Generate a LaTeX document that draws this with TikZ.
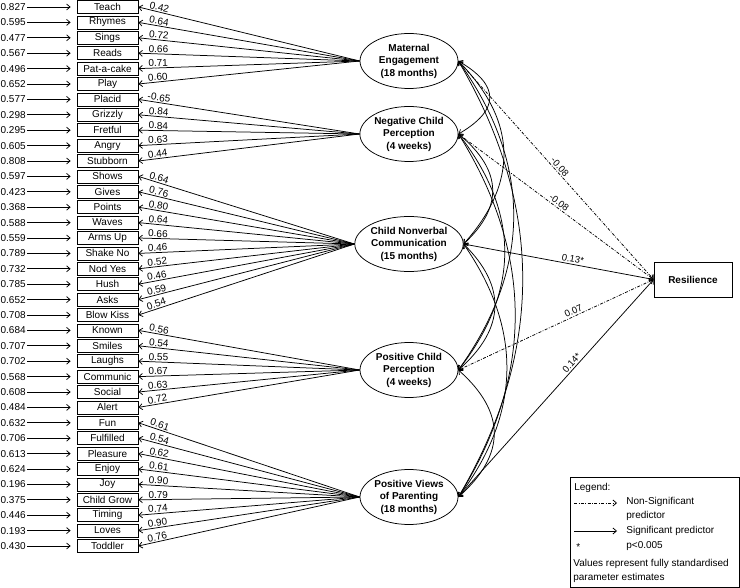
\documentclass[tikz,border=0pt]{standalone}
\usepackage{fontspec}
\setmainfont{Liberation Sans}
\usetikzlibrary{shapes.geometric,arrows.meta}
\begin{document}
\begin{tikzpicture}[x=1pt,y=-1pt,line width=0.75pt,
  >={Straight Barb[length=3.5pt,width=6pt]},
  item/.style={draw,rectangle,minimum width=61pt,minimum height=13pt,inner sep=0pt,font=\fontsize{10}{12}\selectfont},
  err/.style={anchor=east,inner sep=0pt,font=\fontsize{10}{12}\selectfont},
  lab/.style={font=\fontsize{10}{12}\selectfont,inner sep=1pt,sloped,above},
  rlab/.style={font=\fontsize{9.5}{12}\selectfont,inner sep=1.5pt,sloped,above},
  fac/.style={draw,ellipse,minimum width=98pt,minimum height=55pt,inner sep=0pt,align=center,font=\bfseries\fontsize{10}{12.5}\selectfont},
  outc/.style={draw,rectangle,minimum width=78pt,minimum height=35pt,inner sep=0pt,font=\bfseries\fontsize{10}{12}\selectfont},
  ns/.style={dash pattern=on 3pt off 1.5pt on 0.8pt off 1.5pt},
  lgt/.style={anchor=west,inner sep=0pt,align=left,font=\fontsize{10}{13.5}\selectfont},
]
\useasboundingbox (0,0) rectangle (740,588);

% latent factors
\node[fac] (ME)  at (409,61)  {Maternal\\Engagement\\(18 months)};
\node[fac] (NCP) at (409,134) {Negative Child\\Perception\\(4 weeks)};
\node[fac] (CNC) at (409,244) {Child Nonverbal\\Communication\\(15 months)};
\node[fac] (PCP) at (409,370) {Positive Child\\Perception\\(4 weeks)};
\node[fac] (PVP) at (409,497) {Positive Views\\of Parenting\\(18 months)};

\node[outc] (res) at (693,279.5) {Resilience};

% indicators
\foreach \i/\name/\e/\f/\l in {
  1/Teach/0.827/ME/0.42, 2/Rhymes/0.595/ME/0.64, 3/Sings/0.477/ME/0.72,
  4/Reads/0.567/ME/0.66, 5/Pat-a-cake/0.496/ME/0.71, 6/Play/0.652/ME/0.60,
  7/Placid/0.577/NCP/-0.65, 8/Grizzly/0.298/NCP/0.84, 9/Fretful/0.295/NCP/0.84,
  10/Angry/0.605/NCP/0.63, 11/Stubborn/0.808/NCP/0.44,
  12/Shows/0.597/CNC/0.64, 13/Gives/0.423/CNC/0.76, 14/Points/0.368/CNC/0.80,
  15/Waves/0.588/CNC/0.64, 16/Arms Up/0.559/CNC/0.66, 17/Shake No/0.789/CNC/0.46,
  18/Nod Yes/0.732/CNC/0.52, 19/Hush/0.785/CNC/0.46, 20/Asks/0.652/CNC/0.59,
  21/Blow Kiss/0.708/CNC/0.54,
  22/Known/0.684/PCP/0.56, 23/Smiles/0.707/PCP/0.54, 24/Laughs/0.702/PCP/0.55,
  25/Communic/0.568/PCP/0.67, 26/Social/0.608/PCP/0.63, 27/Alert/0.484/PCP/0.72,
  28/Fun/0.632/PVP/0.61, 29/Fulfilled/0.706/PVP/0.54, 30/Pleasure/0.613/PVP/0.62,
  31/Enjoy/0.624/PVP/0.61, 32/Joy/0.196/PVP/0.90, 33/Child Grow/0.375/PVP/0.79,
  34/Timing/0.446/PVP/0.74, 35/Loves/0.193/PVP/0.90, 36/Toddler/0.430/PVP/0.76}
{
  \node[item] (b\i) at (107.5,{7+(\i-1)*15.4}) {\name};
  \node[err] (e\i) at (26,{7+(\i-1)*15.4}) {\e};
  \draw[->,shorten <=1pt,shorten >=6pt] (e\i.east) -- (b\i.west);
  \draw[<-] (b\i.east) -- node[lab,pos=0.09] {\l} (\f.west);
}

% correlations
\foreach \a/\b/\ya/\yb/\c in {
  ME/NCP/61/134/42, NCP/CNC/134/244/45, CNC/PCP/244/370/48, PCP/PVP/370/497/48,
  ME/CNC/61/244/60, NCP/PCP/134/370/62, CNC/PVP/244/497/64,
  ME/PCP/61/370/74, NCP/PVP/134/497/76, ME/PVP/61/497/86}
{
  \draw[<->] (\a.east) .. controls ({458+\c},{\ya+(\yb-\ya)/3}) and ({458+\c},{\yb-(\yb-\ya)/3}) .. (\b.east);
}

% regressions
\draw[->,ns] (ME.east)  -- node[rlab,pos=0.5]  {-0.08} (res.west);
\draw[->,ns] (NCP.east) -- node[rlab,pos=0.5]  {-0.08} (res.west);
\draw[->]    (CNC.east) -- node[rlab,pos=0.57] {0.13*} (res.west);
\draw[->,ns] (PCP.east) -- node[rlab,pos=0.6]  {0.07}  (res.west);
\draw[->]    (PVP.east) -- node[rlab,pos=0.6]  {0.14*} (res.west);

% legend
\node[draw,line width=0.6pt,minimum width=169pt,minimum height=110pt,anchor=north west,inner sep=0pt] (leg) at (570,477) {};
\node[lgt] (l0) at (574,488) {Legend:};
\coordinate (ns1) at (574,503); \coordinate (ns2) at (617,503);
\draw[->,ns] (ns1) -- (ns2);
\node[lgt] (l1) at (626,509) {Non-Significant\\predictor};
\coordinate (s1) at (574,531); \coordinate (s2) at (617,531);
\draw[->] (s1) -- (s2);
\node[lgt] (l2) at (626,531) {Significant predictor};
\node[lgt] (l3) at (576,547) {*};
\node[lgt] (l4) at (626,546) {p<0.005};
\node[lgt] (l5) at (573,571) {Values represent fully standardised\\parameter estimates};
\end{tikzpicture}
\end{document}
